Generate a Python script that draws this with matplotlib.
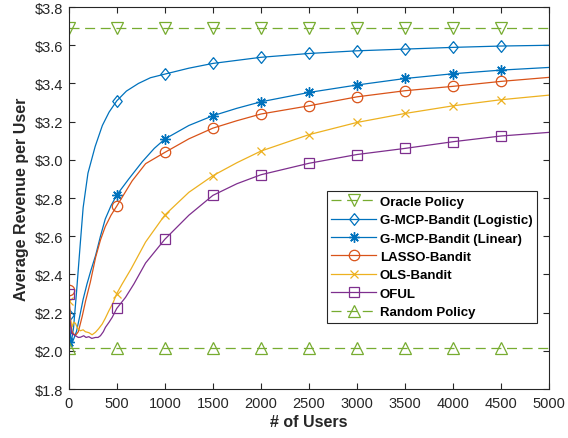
import matplotlib
matplotlib.use("Agg")
import matplotlib.pyplot as plt
from matplotlib.ticker import FuncFormatter, MultipleLocator

plt.rcParams['font.family'] = ['Liberation Sans', 'DejaVu Sans']

# ---- data ----
x_ref = [0, 5000]
oracle_y = [3.69, 3.69]
random_y = [2.015, 2.015]
ref_marker_x = [0, 500, 1000, 1500, 2000, 2500, 3000, 3500, 4000, 4500]

logit_x = [0, 25, 50, 80, 120, 150, 200, 275, 350, 420, 500, 600, 725, 850, 1000,
           1250, 1500, 2000, 2500, 3000, 3500, 4000, 4500, 5000]
logit_y = [2.19, 2.04, 2.12, 2.30, 2.56, 2.75, 2.93, 3.07, 3.18, 3.25, 3.309, 3.36, 3.40, 3.43, 3.449,
           3.48, 3.505, 3.537, 3.557, 3.571, 3.58, 3.589, 3.596, 3.60]

linear_x = [0, 25, 50, 80, 110, 150, 190, 230, 280, 330, 380, 440, 500, 625, 765, 890, 1000,
            1250, 1500, 1750, 2000, 2500, 3000, 3500, 4000, 4500, 5000]
linear_y = [2.044, 2.03, 2.06, 2.10, 2.17, 2.27, 2.35, 2.42, 2.50, 2.60, 2.69, 2.76, 2.816, 2.90, 2.99, 3.06, 3.109,
            3.18, 3.231, 3.27, 3.304, 3.353, 3.392, 3.426, 3.451, 3.47, 3.484]

lasso_x = [0, 20, 35, 50, 70, 100, 140, 175, 225, 280, 330, 380, 440, 500, 660, 800, 1000,
           1250, 1500, 1750, 2000, 2500, 3000, 3500, 4000, 4500, 5000]
lasso_y = [2.32, 2.15, 2.10, 2.09, 2.08, 2.10, 2.18, 2.26, 2.36, 2.49, 2.58, 2.65, 2.71, 2.758, 2.89, 2.98, 3.039,
           3.11, 3.166, 3.205, 3.24, 3.283, 3.33, 3.362, 3.385, 3.411, 3.432]

ols_x = [0, 20, 35, 50, 70, 90, 121, 150, 173, 210, 243, 278, 310, 348, 380, 418, 460, 500, 556, 650, 800, 1000,
         1250, 1500, 1750, 2000, 2500, 3000, 3500, 4000, 4500, 5000]
ols_y = [2.262, 2.16, 2.125, 2.15, 2.144, 2.12, 2.105, 2.11, 2.10, 2.095, 2.084, 2.097, 2.115, 2.14, 2.17, 2.21, 2.25, 2.30, 2.35, 2.43, 2.57, 2.711,
         2.83, 2.917, 2.985, 3.046, 3.132, 3.196, 3.243, 3.283, 3.315, 3.339]

oful_x = [0, 15, 30, 50, 70, 100, 121, 156, 180, 209, 240, 278, 305, 330, 360, 382, 420, 452, 500, 591, 678, 800, 1000,
          1250, 1500, 1750, 2000, 2500, 3000, 3500, 4000, 4500, 5000]
oful_y = [2.30, 2.15, 2.09, 2.085, 2.079, 2.07, 2.071, 2.079, 2.07, 2.074, 2.065, 2.07, 2.07, 2.079, 2.10, 2.123, 2.15, 2.175, 2.222, 2.28, 2.35, 2.46, 2.584,
          2.71, 2.814, 2.875, 2.922, 2.982, 3.028, 3.06, 3.095, 3.125, 3.144]

labels = ['Oracle Policy', 'G-MCP-Bandit (Logistic)', 'G-MCP-Bandit (Linear)',
          'LASSO-Bandit', 'OLS-Bandit', 'OFUL', 'Random Policy']
x_ticks = [0, 500, 1000, 1500, 2000, 2500, 3000, 3500, 4000, 4500, 5000]

# ---- style ----
GREEN = '#77AC30'
BLUE = '#0072BD'
ORANGE = '#D95319'
YELLOW = '#EDB120'
PURPLE = '#7E2F8E'
AX = '#262626'

diamond = [(0, 1), (0.8, 0), (0, -1), (-0.8, 0), (0, 1)]


def marks(xs):
    return [i for i, v in enumerate(xs) if v % 500 == 0 and v < 5000]


fig = plt.figure(figsize=(5.68, 4.39), dpi=100)
ax = fig.add_axes([0.121, 0.1116, 0.846, 0.870])

lw = 0.9
dash = (0, (8, 4.5))

ox = x_ref[:1] + ref_marker_x[1:] + x_ref[1:]
oy = [oracle_y[0]] * len(ox)
ry = [random_y[0]] * len(ox)

ax.plot(ox, oy, color=GREEN, lw=lw, ls=dash, marker='v', ms=8, mfc='none',
        mew=0.9, markevery=marks(ox), label=labels[0])
ax.plot(logit_x, logit_y, color=BLUE, lw=lw, marker=diamond, ms=8.5, mfc='none',
        mew=0.9, markevery=marks(logit_x), label=labels[1])
ax.plot(linear_x, linear_y, color=BLUE, lw=lw, marker=(8, 2, 0), ms=7.5,
        mew=1.0, markevery=marks(linear_x), label=labels[2])
ax.plot(lasso_x, lasso_y, color=ORANGE, lw=lw, marker='o', ms=7.5, mfc='none',
        mew=0.9, markevery=marks(lasso_x), label=labels[3])
ax.plot(ols_x, ols_y, color=YELLOW, lw=lw, marker='x', ms=6, mew=0.9,
        markevery=marks(ols_x), label=labels[4])
ax.plot(oful_x, oful_y, color=PURPLE, lw=lw, marker='s', ms=6.5, mfc='none',
        mew=0.9, markevery=marks(oful_x), label=labels[5])
ax.plot(ox, ry, color=GREEN, lw=lw, ls=dash, marker='^', ms=8, mfc='none',
        mew=0.9, markevery=marks(ox), label=labels[6])

ax.set_xlim(0, 5000)
ax.set_ylim(1.8, 3.8)
ax.set_xticks(x_ticks)
ax.yaxis.set_major_locator(MultipleLocator(0.2))
ax.yaxis.set_major_formatter(FuncFormatter(lambda v, p: '${:.1f}'.format(v)))

for s in ax.spines.values():
    s.set_color(AX)
    s.set_linewidth(0.8)
ax.tick_params(direction='in', length=4, width=0.8, colors=AX, labelsize=10.5,
               top=True, right=True, labelcolor=AX)
ax.tick_params(axis='x', pad=5)
ax.tick_params(axis='y', pad=4)

ax.set_xlabel('# of Users', fontsize=11.5, fontweight='bold', color=AX, labelpad=3)
ax.set_ylabel('Average Revenue per User', fontsize=11.5, fontweight='bold', color=AX, labelpad=4)

leg = ax.legend(loc='lower right', bbox_to_anchor=(0.975, 0.173), borderaxespad=0,
                prop={'size': 9.5, 'weight': 'bold'}, handlelength=3.4, handletextpad=0.3,
                borderpad=0.35, labelspacing=0.47, fancybox=False, framealpha=1,
                edgecolor=AX)
leg.get_frame().set_linewidth(0.8)
for t in leg.get_texts():
    t.set_color('#000000')

fig.savefig('out.png', dpi=100)
